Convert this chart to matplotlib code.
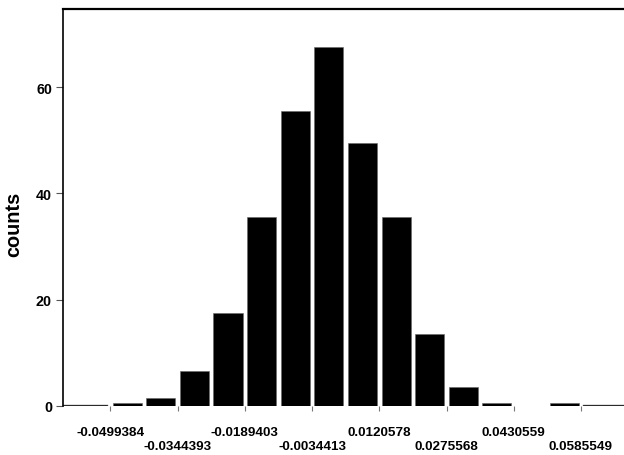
import matplotlib
matplotlib.use("Agg")
import matplotlib.pyplot as plt
import numpy as np

# ---- data ----
tick_values = [-0.0499384, -0.0344393, -0.0189403, -0.0034413,
               0.0120578, 0.0275568, 0.0430559, 0.0585549]
tick_labels = ["-0.0499384", "-0.0344393", "-0.0189403", "-0.0034413",
               "0.0120578", "0.0275568", "0.0430559", "0.0585549"]
# counts per bin, bins start at the first tick value, bin width = half tick spacing
counts = [0.5, 1.5, 6.5, 17.5, 35.5, 55.5, 67.5, 49.5, 35.5, 13.5, 3.5, 0.5, 0.0, 0.5]
left_tail = 0.2
right_tail = 0.2
y_ticks = [0, 20, 40, 60]
x_limits = (-0.060842, 0.068467)
y_limits = (0, 74.8)

plt.rcParams['font.family'] = ['Liberation Sans', 'DejaVu Sans']
plt.rcParams['font.weight'] = 'bold'

fig = plt.figure(figsize=(6.24, 4.56), dpi=100)
ax = fig.add_axes([63/624, 49/456, 1 - 63/624, (407 - 9.5)/456])

w = (tick_values[1] - tick_values[0]) / 2.0
frac = 0.865
gap = w * (1 - frac) / 2
lefts = [tick_values[0] + i * w for i in range(len(counts))]
ax.bar([l + w / 2 for l in lefts], counts, width=w * frac, color='black',
       edgecolor='#666666', linewidth=0.4, align='center')
# tails extending to axis limits
ax.bar(x_limits[0] - w, left_tail, width=(tick_values[0] - gap) - (x_limits[0] - w),
       align='edge', color='black', edgecolor='#666666', linewidth=0.3)
ax.bar(tick_values[-1] + gap, right_tail, width=(x_limits[1] + w) - (tick_values[-1] + gap),
       align='edge', color='black', edgecolor='#666666', linewidth=0.3)

ax.set_xlim(*x_limits)
ax.set_ylim(*y_limits)

ax.set_xticks(tick_values)
ax.set_xticklabels([lab if i % 2 == 0 else "\n" + lab for i, lab in enumerate(tick_labels)],
                   fontsize=9.7, fontweight='bold', linespacing=1.25)
ax.set_yticks(y_ticks)
ax.set_yticklabels([str(v) for v in y_ticks], fontsize=10.3, fontweight='bold')

ax.tick_params(axis='x', direction='out', length=3.5, width=0.8, color='#777777', pad=11)
ax.tick_params(axis='y', direction='out', length=5, width=0.8, color='#555555', pad=3)

ax.spines['right'].set_visible(False)
ax.spines['bottom'].set_visible(False)
ax.spines['top'].set_linewidth(1.6)
ax.spines['left'].set_linewidth(1.2)

ax.set_ylabel("counts", fontsize=14.3, fontweight='bold')
ax.yaxis.set_label_coords(-0.0715, 0.46)

fig.savefig("out.png", dpi=100)
